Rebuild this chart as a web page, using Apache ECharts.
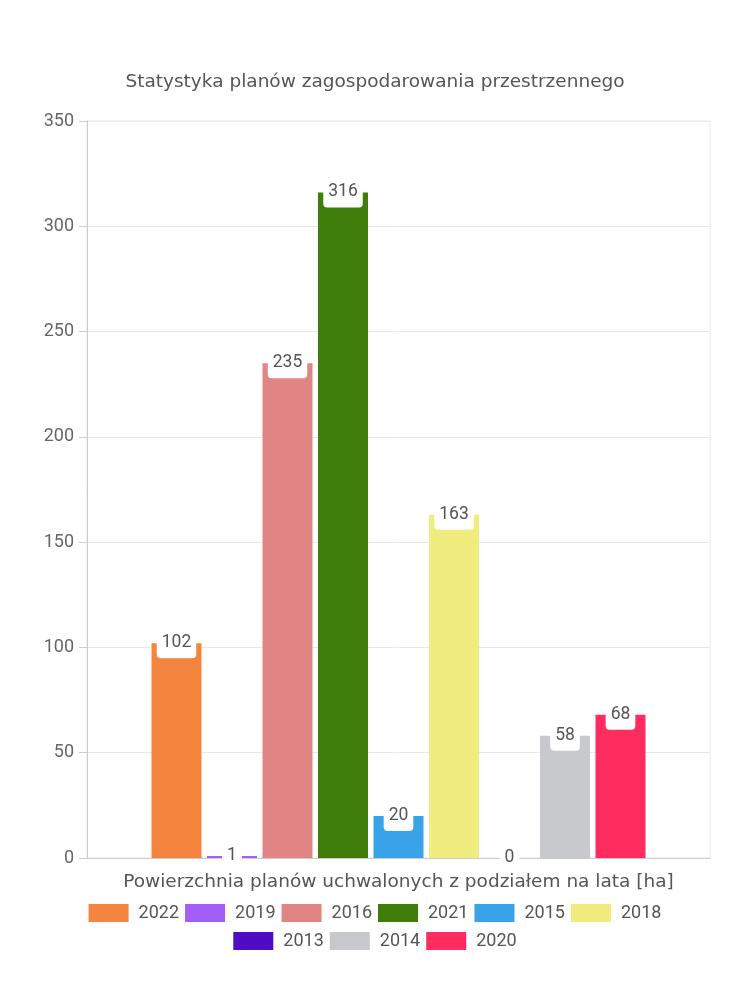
<!DOCTYPE html>
<html><head><meta charset="utf-8">
<script src="https://cdn.jsdelivr.net/npm/echarts@6/dist/echarts.min.js"></script>
<style>html,body{margin:0;padding:0;background:#fff}#c{width:750px;height:1000px}</style>
</head><body><div id="c"></div>
<script>
const categories = [''];
const seriesNames = ['2022','2019','2016','2021','2015','2018','2013','2014','2020'];
const seriesValues = [102, 1, 235, 316, 20, 163, 0, 58, 68];
const colors = ['#f5843f','#a45ef8','#e08484','#3f7e0b','#38a3e9','#f0ec7e','#4f0cc0','#c8c9cd','#ff2d5f'];
const yTicks = [0,50,100,150,200,250,300,350];

const font = "'DejaVu Sans', sans-serif";
const numFont = "Roboto, sans-serif";
const legendBase = {left:'center', itemWidth:40, itemHeight:18, itemGap:6, icon:'rect',
  textStyle:{fontFamily:numFont, fontSize:18, color:'#555', padding:[0,0,0,5]}};
const chart = echarts.init(document.getElementById('c'), null, {renderer:'canvas'});
chart.setOption({
  animation:false,
  color: colors,
  title:{text:'Statystyka planów zagospodarowania przestrzennego', left:'center', top:68,
    textStyle:{fontFamily:font, fontSize:18.5, fontWeight:'normal', color:'#555'}},
  grid:{left:87, right:40, top:121, bottom:142, show:true, borderColor:'#e8e8e8', borderWidth:1, containLabel:false},
  legend:[
    Object.assign({}, legendBase, {data:seriesNames.slice(0,6), top:899}),
    Object.assign({}, legendBase, {data:seriesNames.slice(6), top:927})
  ],
  xAxis:{type:'category', data:categories, name:'Powierzchnia planów uchwalonych z podziałem na lata [ha]',
    nameLocation:'middle', nameGap:15, nameTextStyle:{fontFamily:font, fontSize:18.5, color:'#555'},
    axisLine:{lineStyle:{color:'#ccc'}}, axisTick:{show:false}, axisLabel:{show:false}},
  yAxis:{type:'value', min:0, max:yTicks[yTicks.length-1], interval:50,
    axisLine:{show:true, lineStyle:{color:'#ccc'}}, axisTick:{show:true, length:8, lineStyle:{color:'#ccc'}},
    axisLabel:{fontFamily:numFont, fontSize:18, color:'#666', margin:13},
    splitLine:{lineStyle:{color:'#e8e8e8'}}},
  series: seriesNames.map((n,i)=>({
    name:n, type:'bar', data:[seriesValues[i]], barWidth:50, barGap:'11%',
    label:{show:true, position:'top', distance:-15, fontFamily:numFont, fontSize:17.5, color:'#555',
      backgroundColor:'#fff', borderRadius:4, padding:[3,5,7,5], lineHeight:17}
  }))
});
</script></body></html>
